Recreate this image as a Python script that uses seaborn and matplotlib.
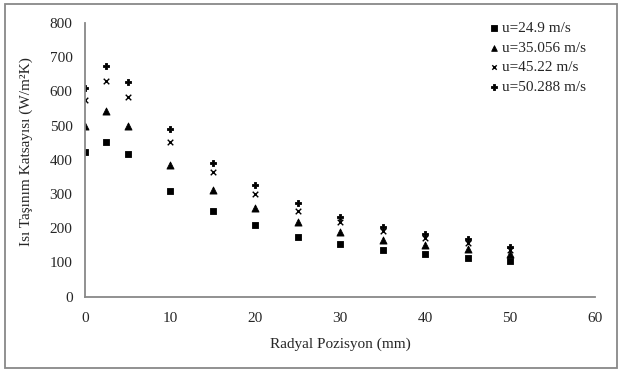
import matplotlib
matplotlib.use('Agg')
import matplotlib.pyplot as plt
import pandas as pd
import seaborn as sns
from matplotlib.patches import Rectangle

# veriler
pozisyon = [0, 2.5, 5, 10, 15, 20, 25, 30, 35, 40, 45, 50]
u_249 = [423, 452, 416, 309, 250, 209, 175, 154, 137, 125, 114, 105]
u_35056 = [500, 544, 498, 384, 311, 258, 219, 190, 166, 151, 140, 125]
u_4522 = [575, 631, 585, 451, 365, 301, 251, 218, 192, 171, 158, 137]
u_50288 = [611, 673, 628, 489, 392, 326, 273, 234, 205, 183, 169, 145]
etiketler = ['u=24.9 m/s', 'u=35.056 m/s', 'u=45.22 m/s', 'u=50.288 m/s']

df = pd.DataFrame({'x': pozisyon * 4,
                   'y': u_249 + u_35056 + u_4522 + u_50288,
                   'seri': [e for e in etiketler for _ in pozisyon]})

sns.set_style('white')
plt.rcParams['font.family'] = ['Liberation Serif', 'DejaVu Serif']

fig = plt.figure(figsize=(6.21, 3.71), dpi=100)
ax = fig.add_axes([85/621, 1-296.7/371, 510/621, 273.7/371])

markers = {etiketler[0]: 's', etiketler[1]: '^', etiketler[2]: 'x', etiketler[3]: 'P'}
sizes = {etiketler[0]: 24, etiketler[1]: 26, etiketler[2]: 16, etiketler[3]: 22}
for e in etiketler:
    sub = df[df['seri'] == e]
    sns.scatterplot(data=sub, x='x', y='y', marker=markers[e], s=sizes[e],
                    color='black', edgecolor='black',
                    linewidth=0.6 if e != etiketler[2] else 1.0,
                    ax=ax, label=e)

ax.set_xlim(0, 60)
ax.set_ylim(0, 800)
ax.set_xticks(range(0, 61, 10))
ax.set_yticks(range(0, 801, 100))
ax.tick_params(axis='both', length=0, labelsize=11)
ax.tick_params(axis='x', pad=11)
ax.tick_params(axis='y', pad=9)
for s in ['top', 'right']:
    ax.spines[s].set_visible(False)
for s in ['left', 'bottom']:
    ax.spines[s].set_color('#888888')
    ax.spines[s].set_linewidth(1.3)
ax.set_xlabel('Radyal Pozisyon (mm)', fontsize=11, labelpad=9)
ax.set_ylabel('Isı Taşınım Katsayısı (W/m²K)', fontsize=11)
ax.yaxis.set_label_coords(-0.102, 0.53)

leg = ax.legend(loc='upper right', frameon=False, fontsize=11, handletextpad=0.1,
                labelspacing=0.39, borderaxespad=0.0, handlelength=0.8,
                markerscale=0.8, bbox_to_anchor=(1.0 - 3/510, 1.028))

# dis cerceve
fig.patches.append(Rectangle((5/621, 3/371), 612/621, 364/371, transform=fig.transFigure,
                             fill=False, edgecolor='#888888', linewidth=1.3))

fig.savefig('out.png', dpi=100)
